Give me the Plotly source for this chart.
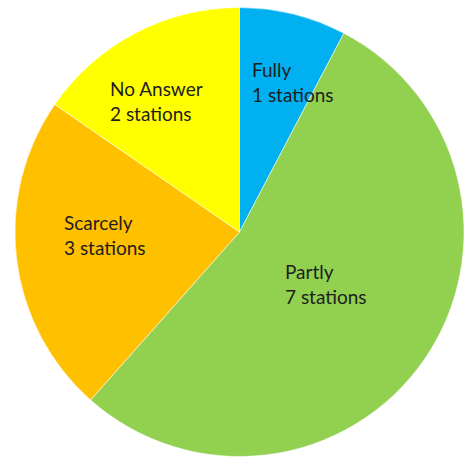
import plotly.graph_objects as go

categories = ["Fully", "Partly", "Scarcely", "No Answer"]
stations = [1, 7, 3, 2]
colors = ["#00B0F0", "#92D050", "#FFC000", "#FFFF00"]

# label anchor (pixel) positions for the text boxes
label_px = [(250, 56), (283, 258), (62, 209), (108, 75)]

W, H = 464, 461
cx, cy, r = 241, 232, 226

fig = go.Figure(go.Pie(
    labels=categories,
    values=stations,
    marker=dict(colors=colors, line=dict(color="white", width=0.5)),
    sort=False,
    direction="clockwise",
    rotation=0,
    textinfo="none",
    hoverinfo="label+value",
    showlegend=False,
    domain=dict(x=[(cx - r) / W, min(1, (cx + r) / W)],
                y=[(H - cy - r) / H, (H - cy + r) / H]),
))

for cat, val, (px, py) in zip(categories, stations, label_px):
    fig.add_annotation(
        x=px / W, y=1 - py / H, xref="paper", yref="paper",
        xanchor="left", yanchor="top", align="left",
        text=f"{cat}<br>{val} stations", showarrow=False,
        font=dict(family="Lato, Open Sans, sans-serif", size=19, color="#1e1e1e"),
    )

fig.update_layout(
    width=W, height=H,
    margin=dict(l=0, r=0, t=0, b=0),
    paper_bgcolor="white", plot_bgcolor="white",
)

fig.write_html("out.html")
